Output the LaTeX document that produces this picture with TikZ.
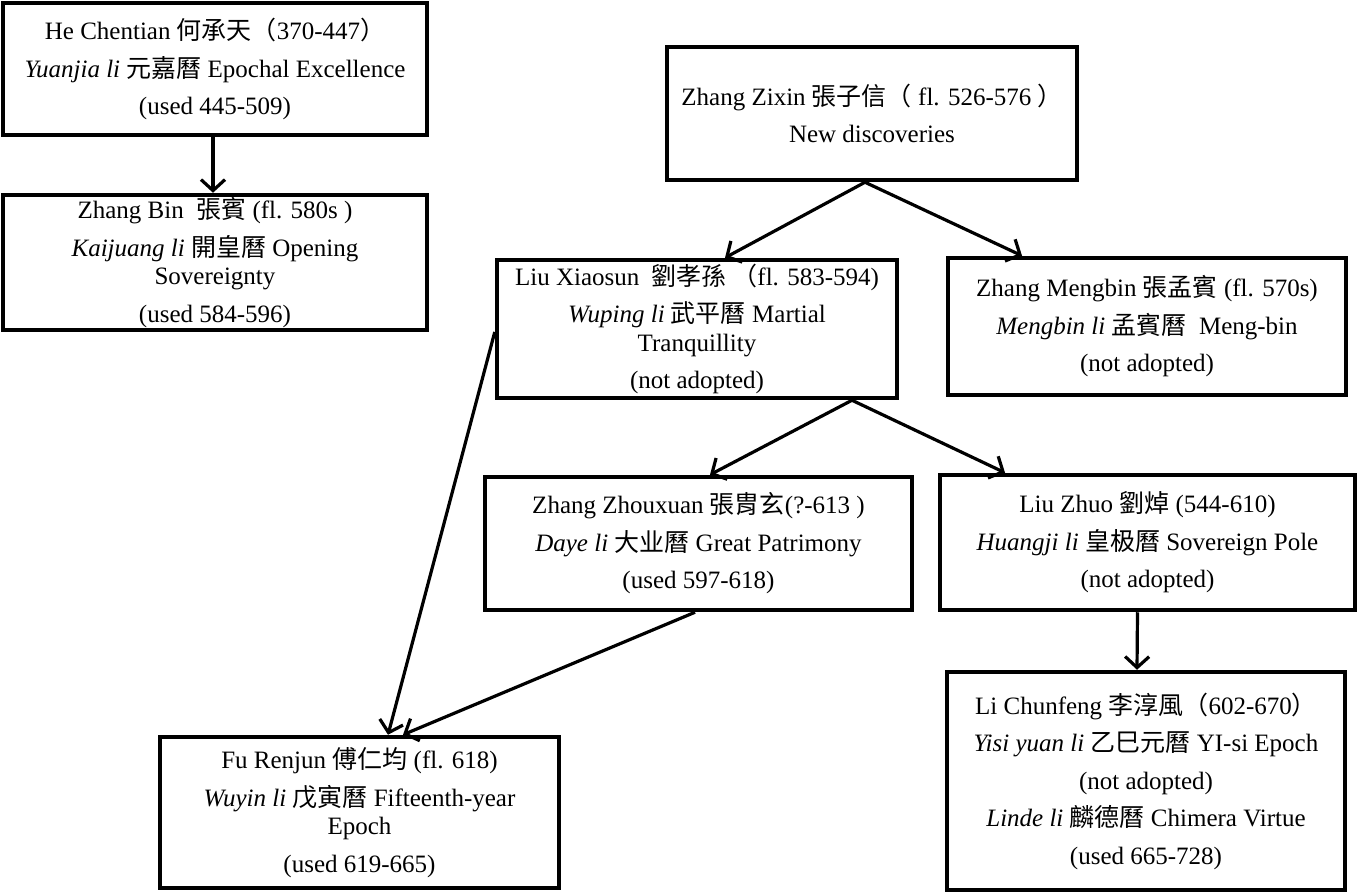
\documentclass[tikz,border=0pt]{standalone}
\usepackage{fontspec}
\setmainfont{Liberation Serif}
\newfontfamily\cjk{Noto Sans CJK TC}
\newcommand\zh[1]{{\cjk #1}}
\usetikzlibrary{arrows.meta}
\begin{document}
\begin{tikzpicture}[x=1pt,y=-1pt,
  box/.style={draw=black,line width=4.5pt,rectangle,inner sep=0pt,align=center,
    font=\fontsize{25}{37.5}\selectfont},
  conn/.style={line width=3.2pt,-{Straight Barb[length=11pt,width=24pt,line width=3.2pt]}}]
\useasboundingbox (0,0) rectangle (1358,893);
\node[box,minimum width=424pt,minimum height=132pt] (A) at (215,69)
  {He Chentian \zh{何承天（}370-447\zh{）}\\
   \textit{Yuanjia li} \zh{元嘉曆} Epochal Excellence\\
   (used 445-509)};
\node[box,minimum width=424pt,minimum height=135pt] (B) at (215,262.5)
  {Zhang Bin\ \ \zh{張賓} (fl. 580s )\\
   \textit{Kaijuang li} \zh{開皇曆} Opening\\[-9pt]
   Sovereignty\\
   (used 584-596)};
\node[box,minimum width=410pt,minimum height=133pt] (C) at (872,113.5)
  {Zhang Zixin \zh{張子信（} fl. 526-576 \zh{）}\\
   New discoveries};
\node[box,minimum width=400pt,minimum height=138pt] (D) at (697,329)
  {Liu Xiaosun\ \ \zh{劉孝孫\ （}fl. 583-594)\\
   \textit{Wuping li} \zh{武平曆} Martial\\[-9pt]
   Tranquillity\\
   (not adopted)};
\node[box,minimum width=398pt,minimum height=137pt] (E) at (1147,326.5)
  {Zhang Mengbin \zh{張孟賓} (fl. 570s)\\
   \textit{Mengbin li} \zh{孟賓曆}\ \ Meng-bin\\
   (not adopted)};
\node[box,minimum width=427pt,minimum height=133pt] (F) at (698.5,543.5)
  {Zhang Zhouxuan \zh{張胄玄}(?-613 )\\
   \textit{Daye li} \zh{大业曆} Great Patrimony\\
   (used 597-618)};
\node[box,minimum width=415pt,minimum height=135pt] (G) at (1147.5,542.5)
  {Liu Zhuo \zh{劉焯} (544-610)\\
   \textit{Huangji li} \zh{皇极曆} Sovereign Pole\\
   (not adopted)};
\node[box,minimum width=398pt,minimum height=218pt] (H) at (1146,781)
  {Li Chunfeng \zh{李淳風（}602-670\zh{）}\\
   \textit{Yisi yuan li} \zh{乙巳元曆} YI-si Epoch\\
   (not adopted)\\
   \textit{Linde li} \zh{麟德曆} Chimera Virtue\\
   (used 665-728)};
\node[box,minimum width=399pt,minimum height=151pt] (I) at (359.5,812.5)
  {Fu Renjun \zh{傅仁均} (fl. 618)\\
   \textit{Wuyin li} \zh{戊寅曆} Fifteenth-year\\[-9pt]
   Epoch\\
   (used 619-665)};
\draw[conn] ([xshift=-2pt]A.south) -- ([xshift=-2pt]B.north);
\draw[conn] ([xshift=-7pt]C.south) -- ([xshift=28pt]D.north);
\draw[conn] ([xshift=-7pt]C.south) -- ([xshift=-125pt]E.north);
\draw[conn] ([xshift=155pt]D.south) -- ([xshift=11.5pt]F.north);
\draw[conn] ([xshift=155pt]D.south) -- ([xshift=-142.5pt]G.north);
\draw[conn] ([xshift=-10pt]G.south) -- ([xshift=-9pt]H.north);
\draw[conn] ([yshift=-3pt]D.west) -- ([xshift=28.5pt]I.north);
\draw[conn] ([xshift=-3.5pt]F.south) -- ([xshift=43.5pt]I.north);
\end{tikzpicture}
\end{document}
